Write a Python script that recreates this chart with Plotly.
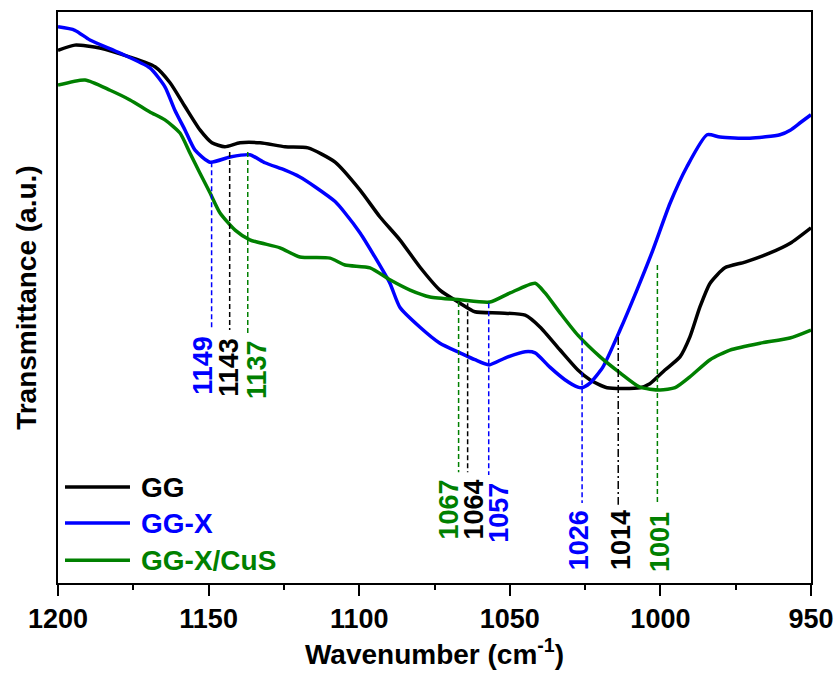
import plotly.graph_objects as go

# ---------------- data ----------------
gg_wn = [1200, 1194.4, 1186.1, 1176.1, 1167.8, 1162.8, 1157.8, 1152.8, 1148.9, 1144.6,
         1139.6, 1132.9, 1124.6, 1117.0, 1108.0, 1099.7, 1093.1, 1086.5, 1079.8, 1073.2,
         1066.5, 1061.6, 1053.3, 1044.9, 1039.9, 1033.3, 1027.4, 1023.4, 1017.7, 1006.8,
         1003.5, 998.5, 993.5, 990.2, 986.9, 983.5, 978.6, 971.9, 963.6, 956.9, 950.0]
gg_t = [93.3, 94.2, 93.7, 92.1, 90.4, 87.6, 83.4, 79.3, 77.1, 76.4,
        77.1, 77.1, 76.4, 76.2, 73.7, 68.8, 64.1, 60.1, 55.3, 51.3,
        49.0, 47.5, 47.3, 46.9, 44.8, 40.8, 37.3, 35.6, 34.2, 34.2,
        34.9, 37.3, 39.6, 43.1, 48.3, 52.5, 55.2, 56.2, 57.8, 59.5, 62.2]

ggx_wn = [1200, 1194.4, 1189.4, 1179.4, 1169.5, 1164.5, 1161.2, 1157.8, 1154.5, 1149.5,
          1142.9, 1136.3, 1131.3, 1124.6, 1119.7, 1114.7, 1108.0, 1104.7, 1099.7, 1094.8,
          1089.8, 1086.5, 1079.8, 1073.2, 1066.5, 1061.6, 1056.9, 1051.6, 1044.9, 1041.6,
          1036.7, 1031.7, 1027.4, 1026.0, 1023.4, 1019.1, 1013.4, 1007.8, 1002.5, 996.8,
          991.2, 984.5, 980.2, 970.3, 960.3, 956.9, 953.6, 950.0]
ggx_t = [97.4, 96.8, 95.1, 92.8, 90.2, 86.9, 82.8, 79.3, 75.8, 73.7,
         74.6, 75.0, 73.6, 72.3, 71.1, 69.4, 66.8, 64.8, 61.3, 57.1,
         52.5, 48.3, 44.8, 42.0, 40.3, 39.1, 38.2, 39.4, 40.5, 40.3,
         37.8, 35.6, 34.3, 34.2, 35.0, 37.8, 44.3, 51.3, 58.3, 66.5,
         72.9, 78.5, 78.1, 77.9, 78.5, 79.3, 80.6, 82.0]

ggxcus_wn = [1200, 1191.0, 1182.7, 1176.1, 1169.5, 1164.5, 1159.5, 1156.2, 1152.9, 1149.5,
             1146.2, 1141.2, 1136.3, 1126.3, 1119.7, 1109.7, 1104.7, 1096.4, 1089.8, 1083.1,
             1076.5, 1066.5, 1056.6, 1049.9, 1041.6, 1038.3, 1033.3, 1027.4, 1020.0, 1013.4,
             1006.8, 1000.1, 995.1, 990.2, 983.5, 976.9, 966.9, 957.0, 950.0]
ggxcus_t = [87.2, 88.1, 86.3, 84.6, 82.5, 81.1, 78.8, 75.3, 71.8, 68.3,
            64.8, 61.8, 60.1, 58.7, 57.1, 56.9, 55.7, 55.2, 53.1, 51.3,
            50.1, 49.6, 49.2, 50.8, 52.5, 50.8, 47.3, 43.4, 39.6, 36.8,
            34.3, 33.8, 34.2, 36.1, 39.1, 40.8, 42.0, 42.9, 44.3]

series_names = ["GG", "GG-X", "GG-X/CuS"]
series_colors = ["#000000", "#0000FF", "#008000"]

# peak markers
peak_wn = [1149, 1143, 1137, 1067, 1064, 1057, 1026, 1014, 1001]
peak_series = [1, 0, 2, 2, 0, 1, 1, 0, 2]
# marker line extents (transmittance units) and label placement
peak_top = [73.7, 75.5, 75.5, 49.2, 49.0, 49.0, 43.9, 43.1, 55.7]
peak_bot = [44.3, 44.3, 43.8, 19.4, 19.4, 18.9, 14.0, 13.7, 14.0]
label_x = [1151.9, 1143.2, 1133.9, 1070.3, 1062.0, 1053.6, 1027.0, 1013.1, 1000.1]
label_y = [38.2, 37.7, 37.3, 12.8, 12.8, 12.3, 7.5, 7.5, 7.2]
peak_dash = ["5px,3px"] * 7 + ["8px,3px,2px,3px"] + ["5px,3px"]

FONT = "Arial, 'Liberation Sans', sans-serif"

fig = go.Figure()
for wn, t, name, col in zip([gg_wn, ggx_wn, ggxcus_wn], [gg_t, ggx_t, ggxcus_t],
                            series_names, series_colors):
    fig.add_trace(go.Scatter(x=wn, y=t, mode="lines", name=name,
                             line=dict(color=col, width=3.5, shape="spline", smoothing=0.6),
                             showlegend=False))

for i, p in enumerate(peak_wn):
    col = series_colors[peak_series[i]]
    fig.add_trace(go.Scatter(x=[p, p], y=[peak_top[i], peak_bot[i]], mode="lines",
                             line=dict(color=col, width=1.5, dash=peak_dash[i]),
                             showlegend=False, hoverinfo="skip"))
    fig.add_annotation(x=label_x[i], y=label_y[i], xref="x", yref="y",
                       text="<b>%d</b>" % p, textangle=-90, showarrow=False,
                       font=dict(family=FONT, size=27, color=col),
                       xanchor="center", yanchor="middle")

# manual legend (paper coordinates)
leg_y = [0.168, 0.105, 0.040]
for name, col, ly in zip(series_names, series_colors, leg_y):
    fig.add_shape(type="line", xref="paper", yref="paper",
                  x0=0.0093, x1=0.0956, y0=ly, y1=ly,
                  line=dict(color=col, width=3.5))
    fig.add_annotation(xref="paper", yref="paper", x=0.108, y=ly,
                       text="<b>%s</b>" % name, showarrow=False,
                       xanchor="left", yanchor="middle",
                       font=dict(family=FONT, size=28, color=col))

# y-axis title placed explicitly
fig.add_annotation(xref="paper", yref="paper", x=-0.042, y=0.5,
                   text="<b>Transmittance (a.u.)</b>", textangle=-90, showarrow=False,
                   xanchor="center", yanchor="middle",
                   font=dict(family=FONT, size=28, color="black"))

fig.update_layout(
    width=838, height=676,
    margin=dict(l=58, r=27, t=12, b=93, autoexpand=False),
    plot_bgcolor="white", paper_bgcolor="white",
    showlegend=False,
    font=dict(family=FONT, color="black"),
    xaxis=dict(range=[1200, 950], tickmode="array", automargin=False,
               tickvals=[1200, 1150, 1100, 1050, 1000, 950],
               ticktext=["<b>1200</b>", "<b>1150</b>", "<b>1100</b>", "<b>1050</b>",
                         "<b>1000</b>", "<b>950</b>"],
               ticks="outside", ticklen=11, tickwidth=2, tickcolor="black",
               minor=dict(tickvals=[1175, 1125, 1075, 1025, 975], ticks="outside",
                          ticklen=5, tickwidth=2, tickcolor="black"),
               showline=True, linecolor="black", linewidth=2, mirror=True,
               showgrid=False, zeroline=False,
               tickfont=dict(family=FONT, size=27, color="black"),
               title=dict(text="<b>Wavenumber (cm<sup>-1</sup>)</b>",
                          font=dict(family=FONT, size=28, color="black"), standoff=6)),
    yaxis=dict(range=[0, 100], showticklabels=False, ticks="", automargin=False,
               showline=True, linecolor="black", linewidth=2, mirror=True,
               showgrid=False, zeroline=False),
)

fig.write_html("out.html")
